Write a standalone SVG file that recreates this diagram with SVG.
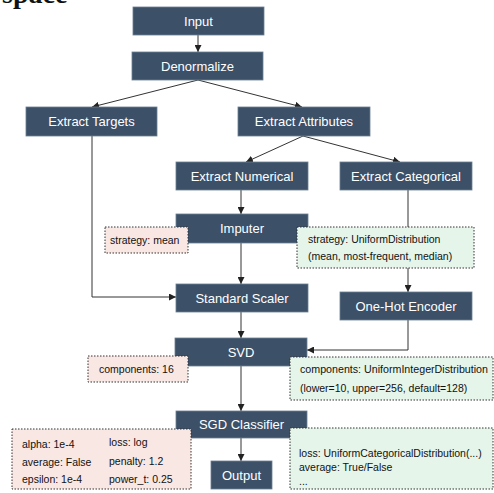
<svg xmlns="http://www.w3.org/2000/svg" width="494" height="493" viewBox="0 0 494 493">
<defs>
<marker id="arr" viewBox="0 0 10 10" refX="10" refY="5" markerWidth="7" markerHeight="7" orient="auto" markerUnits="userSpaceOnUse">
<path d="M0,0 L10,5 L0,10 z" fill="#222"/>
</marker>
<style>
.node rect{fill:#3c5068;stroke:#6a7d92;stroke-width:0.8}
.node text{fill:#fff;font-family:"Liberation Sans",Arial,sans-serif;font-size:13px;text-anchor:middle}
.pink rect{fill:#f9e7e4;stroke:#333;stroke-width:1;stroke-dasharray:1.5 1.5}
.green rect{fill:#e6f5ea;stroke:#333;stroke-width:1;stroke-dasharray:1.5 1.5}
.note text{fill:#111;font-family:"Liberation Sans",Arial,sans-serif;font-size:10.5px}
.edges path{fill:none;stroke:#333;stroke-width:1}
</style>
</defs>
<rect width="494" height="493" fill="#fff"/>
<text x="2" y="3" font-family="Liberation Serif,serif" font-weight="bold" font-size="28" fill="#111">space</text>
<g class="edges">
<path d="M198,35 L198,52" marker-end="url(#arr)"/>
<path d="M198,80 L92,107" marker-end="url(#arr)"/>
<path d="M198,80 L302,107" marker-end="url(#arr)"/>
<path d="M303,136 L246,162" marker-end="url(#arr)"/>
<path d="M303,136 L400,162" marker-end="url(#arr)"/>
<path d="M241,190 L241,214" marker-end="url(#arr)"/>
<path d="M241,243 L241,284" marker-end="url(#arr)"/>
<path d="M92,136 L92,297 L176,297" marker-end="url(#arr)"/>
<path d="M408,190 L408,292" marker-end="url(#arr)"/>
<path d="M241,312 L241,338" marker-end="url(#arr)"/>
<path d="M408,320 L408,350 L307,350" marker-end="url(#arr)"/>
<path d="M241,366 L241,411" marker-end="url(#arr)"/>
<path d="M241,438 L241,461" marker-end="url(#arr)"/>
</g>
<g id="input" class="node"><rect x="133" y="7" width="131" height="28"/><text x="198.5" y="26">Input</text></g>
<g id="denormalize" class="node"><rect x="132" y="52" width="131" height="28"/><text x="197.5" y="71">Denormalize</text></g>
<g id="extract-targets" class="node"><rect x="26" y="107" width="131" height="29"/><text x="91.5" y="126">Extract Targets</text></g>
<g id="extract-attributes" class="node"><rect x="238" y="107" width="132" height="29"/><text x="304" y="126">Extract Attributes</text></g>
<g id="extract-numerical" class="node"><rect x="176" y="162" width="132" height="28"/><text x="242" y="181">Extract Numerical</text></g>
<g id="extract-categorical" class="node"><rect x="340" y="162" width="132" height="28"/><text x="406" y="181">Extract Categorical</text></g>
<g id="imputer" class="node"><rect x="176" y="214" width="132" height="29"/><text x="242" y="233">Imputer</text></g>
<g id="imputer-note" class="note pink"><rect x="105" y="227" width="83" height="26"/><text x="110" y="244">strategy: mean</text></g>
<g id="imputer-space" class="note green"><rect x="297" y="227" width="177" height="41"/><text x="308" y="243">strategy: UniformDistribution</text><text x="308" y="260">(mean, most-frequent, median)</text></g>
<g id="standard-scaler" class="node"><rect x="176" y="284" width="132" height="28"/><text x="242" y="303">Standard Scaler</text></g>
<g id="one-hot" class="node"><rect x="340" y="292" width="132" height="28"/><text x="406" y="311">One-Hot Encoder</text></g>
<g id="svd" class="node"><rect x="175" y="338" width="132" height="28"/><text x="241" y="357">SVD</text></g>
<g id="svd-note" class="note pink"><rect x="88" y="356" width="100" height="26"/><text x="99" y="373">components: 16</text></g>
<g id="svd-space" class="note green"><rect x="290" y="357" width="203" height="43"/><text x="300" y="373" textLength="188" lengthAdjust="spacingAndGlyphs">components: UniformIntegerDistribution</text><text x="300" y="392">(lower=10, upper=256, default=128)</text></g>
<g id="sgd" class="node"><rect x="176" y="411" width="131" height="27"/><text x="241.5" y="429">SGD Classifier</text></g>
<g id="output" class="node"><rect x="211" y="461" width="61" height="28"/><text x="241.5" y="480">Output</text></g>
<g id="sgd-note" class="note pink"><rect x="12" y="429" width="179" height="60"/>
<text x="22" y="448">alpha: 1e-4</text><text x="22" y="466">average: False</text><text x="22" y="483">epsilon: 1e-4</text>
<text x="109" y="446">loss: log</text><text x="109" y="465">penalty: 1.2</text><text x="109" y="483">power_t: 0.25</text></g>
<g id="sgd-space" class="note green"><rect x="290" y="428" width="203" height="61"/>
<text x="299" y="457">loss: UniformCategoricalDistribution(...)</text><text x="299" y="471">average: True/False</text><text x="299" y="485">...</text></g>
</svg>
